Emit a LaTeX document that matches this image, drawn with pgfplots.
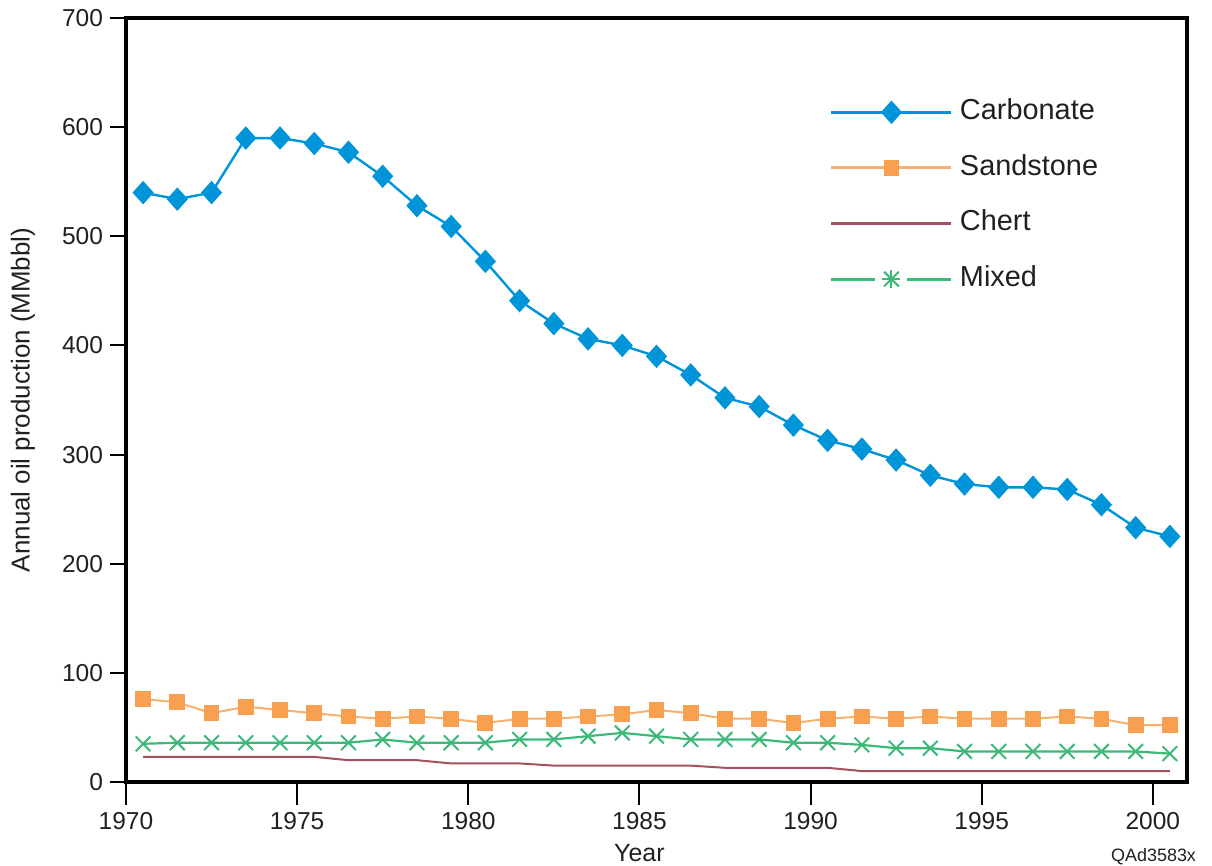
\documentclass[border=0pt]{standalone}
\usepackage{fontspec}
\setmainfont{Liberation Sans}
\usepackage{pgfplots}
\usepackage{pgfplotstable}
\pgfplotsset{compat=1.18}
\definecolor{carb}{RGB}{0,148,216}
\definecolor{sand}{RGB}{249,160,80}
\definecolor{sandline}{RGB}{250,175,110}
\definecolor{chert}{RGB}{165,80,95}
\definecolor{mixed}{RGB}{60,184,120}
\definecolor{txt}{RGB}{35,31,32}

\pgfplotsset{
  mixedlegend/.style={
    legend image code/.code={
      \draw[##1, mark=none, line width=1.5bp] (0bp,0bp)--(22bp,0bp) (38bp,0bp)--(60bp,0bp);
      \draw[##1] plot coordinates {(30bp,0bp)};
      \draw[##1, mark=+, mark size=4.5bp] plot coordinates {(30bp,0bp)};
    }
  }
}

\pgfplotstableread{
year carb sand chert mixed
1970.5 540 76 23 35
1971.5 534 73 23 36
1972.5 540 63 23 36
1973.5 590 69 23 36
1974.5 590 66 23 36
1975.5 585 63 23 36
1976.5 577 60 20 36
1977.5 555 58 20 39
1978.5 528 60 20 36
1979.5 509 58 17 36
1980.5 477 54 17 36
1981.5 441 58 17 39
1982.5 420 58 15 39
1983.5 406 60 15 42
1984.5 400 62 15 45
1985.5 390 66 15 42
1986.5 373 63 15 39
1987.5 352 58 13 39
1988.5 344 58 13 39
1989.5 327 54 13 36
1990.5 313 58 13 36
1991.5 305 60 10 34
1992.5 295 58 10 31
1993.5 281 60 10 31
1994.5 273 58 10 28
1995.5 270 58 10 28
1996.5 270 58 10 28
1997.5 268 60 10 28
1998.5 254 58 10 28
1999.5 233 52 10 28
2000.5 225 52 10 26
}\datatable

\begin{document}
\begin{tikzpicture}
\path[use as bounding box] (-63bp,-42bp) rectangle (543bp,391bp);
\begin{axis}[
  scale only axis,
  width=530.5bp, height=382bp,
  xmin=1970, xmax=2001, ymin=0, ymax=700,
  xtick=\empty,
  extra x ticks={1970,1975,...,2000},
  extra x tick style={major tick length=11.5bp},
  minor xtick={1970,...,2001},
  ytick={0,100,...,700},
  xtick pos=left, ytick pos=left,
  tick align=outside,
  major tick length=8bp,
  minor tick length=9bp,
  tick style={line width=1bp, black},
  axis line style={line width=1.6bp, black},
  tick label style={font=\fontsize{12.3}{14}\selectfont, text=txt},
  /pgf/number format/1000 sep={},
  /pgf/number format/assume math mode=true,
  xlabel={Year},
  ylabel={Annual oil production (MMbbl)},
  every axis x label/.style={at={(axis cs:1985,0)}, yshift=-35.5bp, anchor=center, font=\fontsize{12.5}{14}\selectfont, text=txt},
  every axis y label/.style={at={(rel axis cs:0,0.5)}, xshift=-51.5bp, rotate=90, anchor=center, font=\fontsize{13}{15}\selectfont, text=txt},
  legend image code/.code={\draw[mark repeat=2,mark phase=2,#1, line width=1.5bp] plot coordinates {(0bp,0bp)(30bp,0bp)(60bp,0bp)};},
  legend cell align=left,
  legend style={
    at={(rel axis cs:0.6575,0.9)}, anchor=north west,
    draw=none, fill=none,
    font=\fontsize{14.5}{16}\selectfont,
    text=txt,
    row sep=14.3bp,
    nodes={inner sep=0pt, text height=10.5bp, text depth=3bp},
    /tikz/every odd column/.style={column sep=3.5bp},
  },
]
\addplot[color=carb, line width=1.2bp, mark=diamond*, mark size=5.5bp, mark options={xscale=1.2, solid, line width=0.5bp, fill=carb, draw=carb}]
  table[x=year, y=carb] {\datatable};
\addlegendentry{Carbonate}
\addplot[color=sandline, line width=1bp, mark=square*, mark size=3.7bp, mark options={solid, line width=0.5bp, fill=sand, draw=sand}]
  table[x=year, y=sand] {\datatable};
\addlegendentry{Sandstone}
\addplot[color=chert, line width=1bp, mark=none]
  table[x=year, y=chert] {\datatable};
\addlegendentry{Chert}
\addplot[color=mixed, line width=1.1bp, mark=x, mark size=5.2bp, mark options={solid, line width=1bp}, mixedlegend]
  table[x=year, y=mixed] {\datatable};
\addlegendentry{Mixed}
\end{axis}
\node[anchor=east, font=\fontsize{9}{10}\selectfont, text=txt] at (538.5bp,-37.5bp) {QAd3583x};
\end{tikzpicture}
\end{document}
